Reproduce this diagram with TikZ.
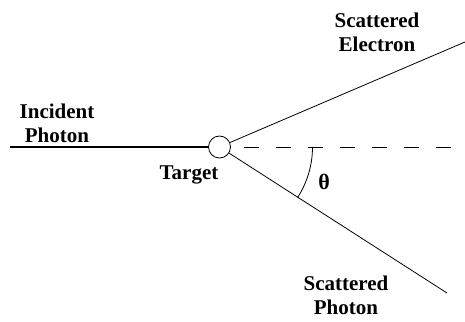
\documentclass[tikz,border=0pt]{standalone}
\usepackage{fontspec}
\setmainfont{Liberation Serif}
\usetikzlibrary{positioning}

\begin{document}
\begin{tikzpicture}[
		x=1pt, y=1pt,
		lbl/.style = {font=\fontsize{21}{24}\selectfont\bfseries, align=center, inner sep=0},
		tgt/.style = {circle, draw, line width=0.8pt, minimum size=22pt, inner sep=0},
		ray/.style = {line width=0.8pt},
		ax/.style = {line width=0.8pt, dash pattern=on 15pt off 17pt, shorten <=13pt}
		]
		\useasboundingbox (0, 0) rectangle (465, 321);
		
		%Nodes
		\node[tgt]	(target)	at	(219.5, 174)	{};
		\coordinate	(inc)		at	(10, 174);
		\coordinate	(el)		at	(465, 279);
		\coordinate	(ph)		at	(447, 28);
		\coordinate	(axis)		at	(453, 174);
		\node[lbl]	(linc)		at	(57, 198)		{Incident\\Photon};
		\node[lbl]	(ltgt)		at	(189, 146)		{Target};
		\node[lbl]	(lel)		at	(377, 289)		{Scattered\\Electron};
		\node[lbl]	(lph)		at	(346, 26)		{Scattered\\Photon};
		\node[lbl, font=\fontsize{22}{24}\selectfont\bfseries]	(lth)	at	(324, 139)	{θ};
		
		%Lines
		\draw[ray, line width=1.1pt]	(inc)	--	(target);
		\draw[ray]	(target)	--	(el);
		\draw[ray]	(target)	--	(ph);
		\draw[ax]	(target.east)	--	(axis);
		\draw[ray]	(target.center) ++(0:93) arc (0:-33:93);
	\end{tikzpicture}
\end{document}
